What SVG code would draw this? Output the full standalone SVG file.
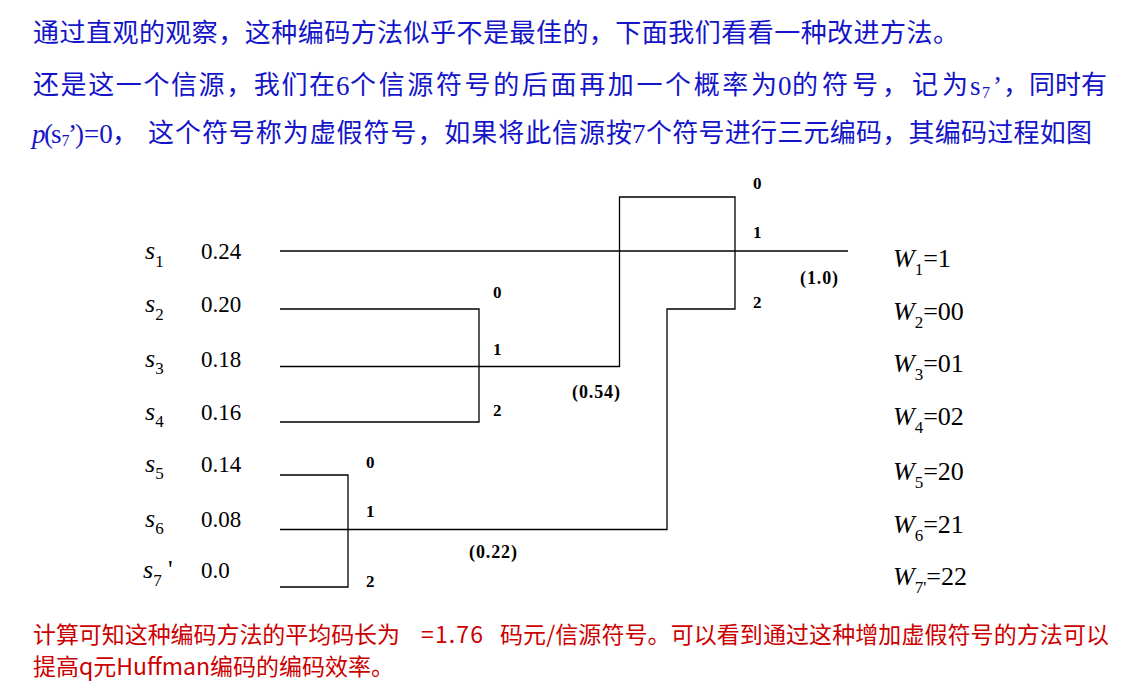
<svg xmlns="http://www.w3.org/2000/svg" width="1139" height="687" viewBox="0 0 1139 687">
<style>
.cn{font-family:"Noto Sans CJK SC","Noto Sans",sans-serif;font-size:26px;fill:#1414C8}
.tmb{font-family:"Liberation Serif","Times New Roman",serif;font-size:27px;fill:#1414C8}
.red{font-family:"Noto Sans CJK SC","Noto Sans",sans-serif;font-size:23px;fill:#CC0000}
.lbl{font-family:"Liberation Serif","Times New Roman",serif;font-weight:bold;font-size:17px;fill:#000}
.pl{font-size:18px}
.sym{font-family:"Liberation Serif","Times New Roman",serif;font-style:italic;font-size:26px;fill:#000}
.num{font-family:"Liberation Serif","Times New Roman",serif;font-size:23px;fill:#000}
.sub{font-size:17px;font-style:normal}
.up{font-style:normal}
.cj{font-family:"Noto Sans CJK SC","Noto Sans",sans-serif;font-size:26px}
.conn{fill:none;stroke:#000;stroke-width:1.3}
</style>
<rect width="1139" height="687" fill="#fff"/>

<g id="intro-text">
<text class="cn" x="33" y="42" textLength="926" lengthAdjust="spacing">通过直观的观察，这种编码方法似乎不是最佳的，下面我们看看一种改进方法。</text>

<text class="cn" x="33" y="94" textLength="302" lengthAdjust="spacing">还是这一个信源，我们在</text>
<text class="tmb" x="336" y="95">6</text>
<text class="cn" x="350" y="94" textLength="427" lengthAdjust="spacing">个信源符号的后面再加一个概率为</text>
<text class="tmb" x="778" y="95">0</text>
<text class="cn" x="792" y="94" textLength="176" lengthAdjust="spacing">的符号，记为</text>
<text class="tmb" x="970" y="95">s<tspan x="982" dy="3" font-size="16">7</tspan><tspan x="993" dy="-3">’</tspan></text>
<text class="cn" x="1003" y="94" textLength="104" lengthAdjust="spacing">，同时有</text>

<text class="tmb" x="32" y="143"><tspan font-style="italic">p</tspan><tspan x="44">(</tspan><tspan x="51">s</tspan><tspan x="61.5" dy="3" font-size="16">7</tspan><tspan x="68" dy="-3">’</tspan><tspan x="75">)=0</tspan><tspan class="cj" x="112" dy="-1">，</tspan></text>
<text class="cn" x="148" y="142" textLength="484" lengthAdjust="spacing">这个符号称为虚假符号，如果将此信源按</text>
<text class="tmb" x="632" y="143">7</text>
<text class="cn" x="646" y="142" textLength="446" lengthAdjust="spacing">个符号进行三元编码，其编码过程如图</text>
</g>

<g id="connectors">
<path class="conn" d="M280,251 H848"/>
<path class="conn" d="M280,309 H479 V422 H280"/>
<path class="conn" d="M280,366.5 H619.5 V197 H735 V309 H667 V529.5 H280"/>
<path class="conn" d="M280,475 H348 V587 H280"/>
</g>

<g id="branch-labels">
<text class="lbl" x="493" y="298">0</text>
<text class="lbl" x="493" y="355">1</text>
<text class="lbl" x="493" y="416">2</text>
<text class="lbl" x="753" y="189">0</text>
<text class="lbl" x="753" y="238">1</text>
<text class="lbl" x="753" y="308">2</text>
<text class="lbl" x="366" y="468">0</text>
<text class="lbl" x="366" y="517">1</text>
<text class="lbl" x="366" y="587">2</text>
<text class="lbl pl" x="800" y="284" textLength="38" lengthAdjust="spacing">(1.0)</text>
<text class="lbl pl" x="572" y="398" textLength="48" lengthAdjust="spacing">(0.54)</text>
<text class="lbl pl" x="469" y="558" textLength="48" lengthAdjust="spacing">(0.22)</text>
</g>

<g id="s1"><text class="sym" x="145" y="259.3">s<tspan class="sub" dy="7.4">1</tspan></text><text class="num" x="201" y="259.3">0.24</text></g>
<g id="s2"><text class="sym" x="145" y="312.3">s<tspan class="sub" dy="7.4">2</tspan></text><text class="num" x="201" y="312.3">0.20</text></g>
<g id="s3"><text class="sym" x="145" y="366.7">s<tspan class="sub" dy="7.4">3</tspan></text><text class="num" x="201" y="366.7">0.18</text></g>
<g id="s4"><text class="sym" x="145" y="420">s<tspan class="sub" dy="7.4">4</tspan></text><text class="num" x="201" y="420">0.16</text></g>
<g id="s5"><text class="sym" x="145" y="471.7">s<tspan class="sub" dy="7.4">5</tspan></text><text class="num" x="201" y="471.7">0.14</text></g>
<g id="s6"><text class="sym" x="145" y="526.7">s<tspan class="sub" dy="7.4">6</tspan></text><text class="num" x="201" y="526.7">0.08</text></g>
<g id="s7"><text class="sym" x="143" y="578.3">s<tspan class="sub" dy="8">7</tspan><tspan class="up" x="168" dy="-8">'</tspan></text><text class="num" x="201" y="578.3">0.0</text></g>

<g id="w1"><text class="sym" x="893" y="266.7">W<tspan class="sub" dy="8">1</tspan><tspan class="up" dy="-8">=1</tspan></text></g>
<g id="w2"><text class="sym" x="893" y="320">W<tspan class="sub" dy="8">2</tspan><tspan class="up" dy="-8">=00</tspan></text></g>
<g id="w3"><text class="sym" x="893" y="371.7">W<tspan class="sub" dy="8">3</tspan><tspan class="up" dy="-8">=01</tspan></text></g>
<g id="w4"><text class="sym" x="893" y="425">W<tspan class="sub" dy="8">4</tspan><tspan class="up" dy="-8">=02</tspan></text></g>
<g id="w5"><text class="sym" x="893" y="480">W<tspan class="sub" dy="8">5</tspan><tspan class="up" dy="-8">=20</tspan></text></g>
<g id="w6"><text class="sym" x="893" y="533">W<tspan class="sub" dy="8">6</tspan><tspan class="up" dy="-8">=21</tspan></text></g>
<g id="w7"><text class="sym" x="893" y="585">W<tspan class="sub" dy="8">7'</tspan><tspan class="up" dy="-8">=22</tspan></text></g>

<g id="conclusion-text">
<text class="red" x="33" y="643" textLength="367" lengthAdjust="spacing">计算可知这种编码方法的平均码长为</text>
<text class="red" x="421" y="643" textLength="62" lengthAdjust="spacing">=1.76</text>
<text class="red" x="500" y="643" textLength="609" lengthAdjust="spacing">码元/信源符号。可以看到通过这种增加虚假符号的方法可以</text>
<text class="red" x="33" y="675">提高q元Huffman编码的编码效率。</text>
</g>
</svg>
